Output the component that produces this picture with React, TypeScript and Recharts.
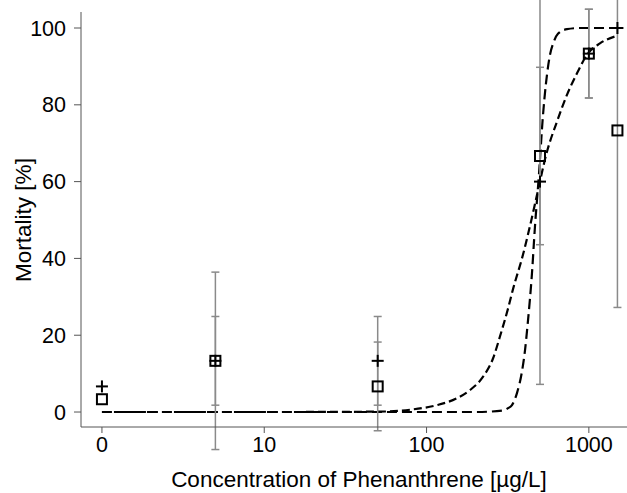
import React from 'react';
import {
  ComposedChart,
  Line,
  Scatter,
  ErrorBar,
  XAxis,
  YAxis,
  Label,
} from 'recharts';

/* ------------------------------------------------------------------ */
/*  Data                                           */
/* ------------------------------------------------------------------ */

// tested concentrations (µg/L); the control (0) sits where 1 would be on the log axis
const CONC = [0, 5, 50, 500, 1000, 1500];

// "+" markers
const CROSS_MORT = [6.67, 13.33, 13.33, 60, 93.33, 100];
const CROSS_ERR = [0, 11.55, 11.55, 52.8, 11.55, 0];

// square markers
const SQUARE_MORT = [3.33, 13.33, 6.67, 66.67, 93.33, 73.33];
const SQUARE_ERR = [0, 23.1, 11.55, 23.1, 11.55, 46.1];

// steep fitted curve
const FIT_STEEP_CONC = [0, 10, 100, 200, 296, 318, 336, 361, 387, 404, 421, 446, 465, 493, 521, 544, 576, 609, 645, 733, 881, 1500];
const FIT_STEEP_MORT = [0, 0, 0, 0, 0.4, 1, 1.8, 5, 10.5, 16, 23.5, 36, 48, 62, 77, 85.5, 93, 96.5, 98.5, 99.7, 100, 100];

// shallow fitted curve
const FIT_SHALLOW_CONC = [0, 10, 50, 79, 116, 154, 185, 223, 257, 283, 318, 341, 393, 434, 479, 552, 636, 733, 845, 973, 1170, 1500];
const FIT_SHALLOW_MORT = [0, 0, 0.1, 0.6, 1.8, 3.6, 5.7, 9.2, 14, 19.6, 27, 32, 41, 48.5, 56.5, 67.8, 75.6, 82.6, 88.2, 93, 96, 98];

const X_TICKS = [1, 10, 100, 1000];
const Y_TICKS = [0, 20, 40, 60, 80, 100];

/* ------------------------------------------------------------------ */

const FONT = '"Liberation Sans", Arial, sans-serif';
const AXIS_COLOR = '#555';

// control group is drawn at 1 on the log axis
const toX = (c: number) => (c === 0 ? 1 : c);

const crossData = CONC.map((c, i) => ({ x: toX(c), y: CROSS_MORT[i], err: CROSS_ERR[i] }));
const squareData = CONC.map((c, i) => ({ x: toX(c), y: SQUARE_MORT[i], err: SQUARE_ERR[i] }));
const steepData = FIT_STEEP_CONC.map((c, i) => ({ x: toX(c), y: FIT_STEEP_MORT[i] }));
const shallowData = FIT_SHALLOW_CONC.map((c, i) => ({ x: toX(c), y: FIT_SHALLOW_MORT[i] }));

function CrossMarker(props: any) {
  const { cx, cy } = props;
  if (cx == null || cy == null) return null;
  return (
    <g stroke="#000" strokeWidth={2}>
      <line x1={cx - 6} y1={cy} x2={cx + 6} y2={cy} />
      <line x1={cx} y1={cy - 6} x2={cx} y2={cy + 6} />
    </g>
  );
}

function SquareMarker(props: any) {
  const { cx, cy } = props;
  if (cx == null || cy == null) return null;
  return <rect x={cx - 5} y={cy - 5} width={10} height={10} fill="none" stroke="#000" strokeWidth={2} />;
}

function XTitle() {
  return (
    <text x={359} y={487} textAnchor="middle" fontSize={22.5} fontFamily={FONT} fill="#000">
      Concentration of Phenanthrene [µg/L]
    </text>
  );
}

function YTitle() {
  return (
    <text
      x={31}
      y={220}
      transform="rotate(-90 31 220)"
      textAnchor="middle"
      fontSize={22.5}
      fontFamily={FONT}
      fill="#000"
    >
      Mortality [%]
    </text>
  );
}

export default function App() {
  return (
    <div style={{ position: 'absolute', left: 0, top: 0, width: 627, height: 493, background: '#fff' }}>
      <ComposedChart width={627} height={493} margin={{ top: 12, right: 0, bottom: 0, left: 0 }}>
        <XAxis
          type="number"
          dataKey="x"
          scale="log"
          domain={[0.743, 1718]}
          allowDataOverflow
          ticks={X_TICKS}
          tickFormatter={(v: number) => (v === 1 ? '0' : String(v))}
          tickSize={6}
          tickMargin={4}
          height={66}
          stroke={AXIS_COLOR}
          tick={{ fill: '#000', fontSize: 21.5, fontFamily: FONT }}
        >
          <Label content={<XTitle />} />
        </XAxis>
        <YAxis
          type="number"
          domain={[-3.9, 104.17]}
          allowDataOverflow
          ticks={Y_TICKS}
          tickSize={7}
          tickMargin={8}
          width={81}
          stroke={AXIS_COLOR}
          tick={{ fill: '#000', fontSize: 21.5, fontFamily: FONT }}
        >
          <Label content={<YTitle />} />
        </YAxis>

        <Line
          data={shallowData}
          dataKey="y"
          type="monotone"
          stroke="#000"
          strokeWidth={2.2}
          strokeDasharray="8 4"
          dot={false}
          activeDot={false}
          isAnimationActive={false}
        />
        <Line
          data={steepData}
          dataKey="y"
          type="monotone"
          stroke="#000"
          strokeWidth={2.2}
          strokeDasharray="10 5"
          dot={false}
          activeDot={false}
          isAnimationActive={false}
        />

        <Scatter data={squareData} dataKey="y" shape={<SquareMarker />} isAnimationActive={false}>
          <ErrorBar dataKey="err" direction="y" width={4} stroke="#8a8a8a" strokeWidth={1.5} isAnimationActive={false} />
        </Scatter>
        <Scatter data={crossData} dataKey="y" shape={<CrossMarker />} isAnimationActive={false}>
          <ErrorBar dataKey="err" direction="y" width={4} stroke="#8a8a8a" strokeWidth={1.5} isAnimationActive={false} />
        </Scatter>
      </ComposedChart>
    </div>
  );
}
